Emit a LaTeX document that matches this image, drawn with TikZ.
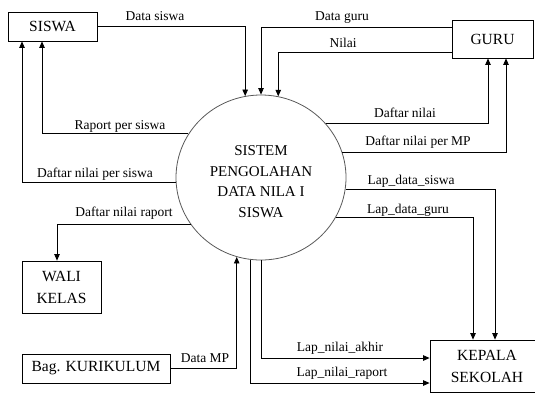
\documentclass[tikz,border=0pt]{standalone}
\usepackage{fontspec}
\setmainfont{Liberation Serif}
\newfontfamily\dfdfont{Liberation Serif}
\usetikzlibrary{arrows.meta,shapes.geometric}
\begin{document}
\begin{tikzpicture}[x=1pt,y=-1pt,
  ent/.style={draw, line width=0.8pt, inner sep=0pt, align=center,
    font=\dfdfont\fontsize{15.5}{22}\selectfont},
  proc/.style={draw=black!65, line width=0.8pt, ellipse, inner sep=0pt,
    minimum width=170pt, minimum height=165pt},
  proctext/.style={inner sep=0pt, align=center,
    font=\dfdfont\fontsize{15}{20.5}\selectfont},
  lbl/.style={inner sep=0pt, font=\dfdfont\fontsize{13.5}{15}\selectfont},
  flow/.style={draw, line width=0.8pt, -{Triangle[width=5.5pt,length=6.5pt]}}]
\useasboundingbox (0,0) rectangle (535,392);
% entities
\node[ent, minimum width=89pt, minimum height=29pt] (siswa) at (52.5,26.5) {SISWA};
\node[ent, minimum width=81pt, minimum height=38pt] (guru) at (492.5,39) {GURU};
\node[ent, minimum width=79pt, minimum height=52pt] (wali) at (61.5,287) {WALI\\KELAS};
\node[ent, minimum width=148pt, minimum height=29pt] (kur) at (96,368.5) {Bag. KURIKULUM};
\node[ent, minimum width=114pt, minimum height=52pt] (kep) at (487,366) {KEPALA\\SEKOLAH};
% process
\node[proc] (c) at (261,177.5) {};
\node[proctext] (ct) at ([yshift=-4pt]c.center) {SISTEM\\PENGOLAHAN\\DATA NILA I\\SISWA};
% flows
\draw[flow] (siswa.east) -| (c.101.2);
\draw[flow] ([yshift=12pt]guru.west) -| (c.90);
\draw[flow] ([yshift=-13pt]guru.west) -| (c.78.8);
\draw[flow] (c.40.5) -| ([xshift=-4.5pt]guru.south);
\draw[flow] (c.17.5) -| ([xshift=13.5pt]guru.south);
\draw[flow] (c.149.8) -| ([xshift=-10.5pt]siswa.south);
\draw[flow] (c.183.7) -| ([xshift=-30.5pt]siswa.south);
\draw[flow] (c.214.35) -| ([xshift=-4.5pt]wali.north);
\draw[flow] (kur.east) -| (c.253.85);
\draw[flow] (c.-8.46) -| ([xshift=8pt]kep.north);
\draw[flow] (c.-28.7) -| ([xshift=-14pt]kep.north);
\draw[flow] (c.270.7) |- ([yshift=8pt]kep.west);
\draw[flow] (c.263.04) |- ([yshift=-17pt]kep.west);
% labels
\node[lbl] (l1) at (155,16) {Data siswa};
\node[lbl] (l2) at (342,18) {Data guru};
\node[lbl] (l3) at (343,43) {Nilai};
\node[lbl] (l4) at (405,113) {Daftar nilai};
\node[lbl] (l5) at (418,142) {Daftar nilai per MP};
\node[lbl] (l6) at (411,181) {Lap\_data\_siswa};
\node[lbl] (l7) at (408,210) {Lap\_data\_guru};
\node[lbl] (l8) at (340,348) {Lap\_nilai\_akhir};
\node[lbl] (l9) at (342,373) {Lap\_nilai\_raport};
\node[lbl] (l10) at (120,126) {Raport per siswa};
\node[lbl] (l11) at (95,174) {Daftar nilai per siswa};
\node[lbl] (l12) at (124,213) {Daftar nilai raport};
\node[lbl] (l13) at (205,358) {Data MP};
\end{tikzpicture}
\end{document}
